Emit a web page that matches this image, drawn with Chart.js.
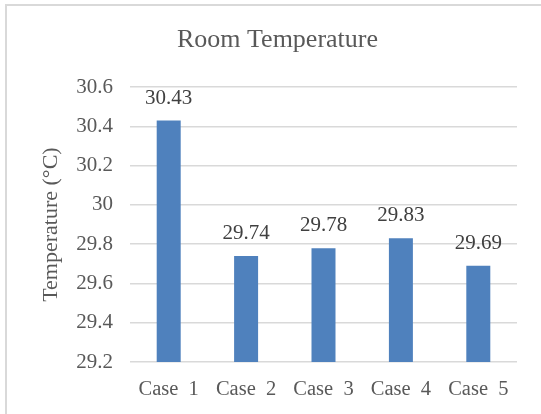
<!DOCTYPE html>
<html>
<head>
<meta charset="utf-8">
<script src="https://cdn.jsdelivr.net/npm/chart.js@4/dist/chart.umd.min.js"></script>
<style>
  html, body { margin: 0; padding: 0; background: #ffffff; }
  #wrap { width: 541px; height: 414px; position: relative; }
</style>
</head>
<body>
<div id="wrap"><canvas id="c" width="541" height="414"></canvas></div>
<script>
// Room temperature per case (°C)
const categories = ['Case  1', 'Case  2', 'Case  3', 'Case  4', 'Case  5'];
const temperatures = [30.43, 29.74, 29.78, 29.83, 29.69];
const yTicks = [29.2, 29.4, 29.6, 29.8, 30, 30.2, 30.4, 30.6];

const SERIF = '"Liberation Serif", "Times New Roman", serif';
const TEXT = '#595959';

// Thin frame around the chart (top and left edges)
const framePlugin = {
  id: 'frame',
  beforeDraw(chart) {
    const ctx = chart.ctx;
    ctx.save();
    ctx.fillStyle = '#ffffff';
    ctx.fillRect(0, 0, chart.width, chart.height);
    ctx.strokeStyle = '#d9d9d9';
    ctx.lineWidth = 2;
    ctx.beginPath();
    ctx.moveTo(6, chart.height + 2);
    ctx.lineTo(6, 5);
    ctx.lineTo(chart.width + 2, 5);
    ctx.stroke();
    ctx.restore();
  }
};

// Value labels above each bar
const valueLabels = {
  id: 'valueLabels',
  afterDatasetsDraw(chart) {
    const ctx = chart.ctx;
    const meta = chart.getDatasetMeta(0);
    const data = chart.data.datasets[0].data;
    ctx.save();
    ctx.font = '21px ' + SERIF;
    ctx.fillStyle = '#404040';
    ctx.textAlign = 'center';
    ctx.textBaseline = 'bottom';
    meta.data.forEach((bar, i) => {
      ctx.fillText(data[i].toFixed(2), bar.x, bar.y - 12);
    });
    ctx.restore();
  }
};

new Chart(document.getElementById('c'), {
  type: 'bar',
  data: {
    labels: categories,
    datasets: [{
      data: temperatures,
      backgroundColor: '#4f81bd',
      borderWidth: 0,
      categoryPercentage: 1,
      barPercentage: 0.31
    }]
  },
  options: {
    responsive: false,
    animation: false,
    devicePixelRatio: 1,
    layout: { padding: { left: 38, right: 24, top: 0, bottom: 0 } },
    plugins: {
      legend: { display: false },
      tooltip: { enabled: false },
      title: {
        display: true,
        text: 'Room Temperature',
        color: TEXT,
        font: { family: SERIF, size: 26, weight: 'normal' },
        padding: { top: 25, bottom: 31 }
      }
    },
    scales: {
      x: {
        grid: { display: false, drawTicks: false },
        border: { display: false },
        ticks: {
          color: TEXT,
          font: { family: SERIF, size: 20.5 },
          padding: 15,
          maxRotation: 0
        },
        afterFit(scale) { scale.height = 52; }
      },
      y: {
        min: 29.2,
        max: 30.6,
        afterBuildTicks(scale) {
          scale.ticks = yTicks.map(v => ({ value: v }));
        },
        grid: { color: '#d9d9d9', lineWidth: 1.5, drawTicks: false },
        border: { display: false },
        ticks: {
          color: TEXT,
          font: { family: SERIF, size: 21 },
          padding: 17,
          callback: v => String(Number(v.toFixed(1)))
        },
        title: {
          display: true,
          text: 'Temperature (°C)',
          color: TEXT,
          font: { family: SERIF, size: 22, weight: 'normal' },
          padding: 0
        },
        afterFit(scale) { scale.width = 92; }
      }
    }
  },
  plugins: [framePlugin, valueLabels]
});
</script>
</body>
</html>
